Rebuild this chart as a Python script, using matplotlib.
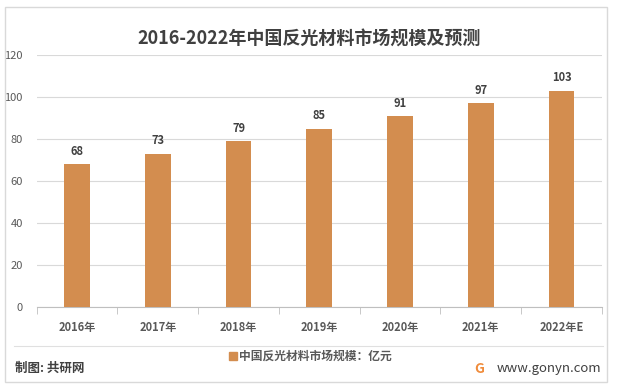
import numpy as np
import matplotlib.pyplot as plt
from matplotlib.patches import Rectangle
from matplotlib.lines import Line2D

plt.rcParams['font.family'] = ['Noto Sans CJK SC', 'DejaVu Sans']

years = ['2016年', '2017年', '2018年', '2019年', '2020年', '2021年', '2022年E']
values = [68, 73, 79, 85, 91, 97, 103]

bar_color = '#D38D4F'
text_gray = '#595959'

fig = plt.figure(figsize=(6.18, 3.89), dpi=100)
ax = fig.add_axes([0.0594, 0.2108, 0.9146, 0.6478])

x = np.arange(len(years))
bars = ax.bar(x, values, width=0.32, color=bar_color, zorder=3)
for xi, v in zip(x, values):
    ax.text(xi, v + 3, str(v), ha='center', va='bottom', fontsize=8,
            fontweight='bold', color='#404040')

ax.set_xlim(-0.5, len(years) - 0.5)
ax.set_ylim(0, 120)
ax.set_yticks(np.arange(0, 121, 20))
ax.set_xticks(x)
ax.set_xticklabels(years, fontsize=8, fontweight='bold', color=text_gray)
ax.tick_params(axis='x', length=0, pad=10)
ax.set_xticks(np.arange(-0.5, len(years), 1), minor=True)
ax.tick_params(axis='x', which='minor', length=5, color='#BFBFBF')
ax.tick_params(axis='y', length=0, pad=10, labelsize=8, labelcolor=text_gray)
ax.grid(axis='y', color='#D9D9D9', linewidth=0.8, zorder=0)
for s in ['left', 'right', 'top']:
    ax.spines[s].set_visible(False)
ax.spines['bottom'].set_color('#BFBFBF')

fig.text(0.5, 0.9, '2016-2022年中国反光材料市场规模及预测', ha='center', va='center',
         fontsize=13, fontweight='bold', color='#404040')

# outer frame and separator
fig.patches.append(Rectangle((0.008, 0.018), 0.975, 0.965, transform=fig.transFigure,
                             fill=False, edgecolor='#D9D9D9', linewidth=1))
fig.lines.append(Line2D([0.022, 0.975], [0.11, 0.11], transform=fig.transFigure,
                        color='#E0E0E0', linewidth=0.8))

# legend
fig.patches.append(Rectangle((0.371, 0.075), 0.012, 0.02, transform=fig.transFigure,
                             color=bar_color))
fig.text(0.387, 0.085, '中国反光材料市场规模：亿元', ha='left', va='center',
         fontsize=8.5, fontweight='bold', color=text_gray)

fig.text(0.024, 0.052, '制图: 共研网', ha='left', va='center', fontsize=9,
         fontweight='bold', color='#404040')
fig.text(0.973, 0.052, 'www.gonyn.com', ha='right', va='center', fontsize=9.5,
         color='#404040')
fig.text(0.775, 0.052, 'G', ha='center', va='center', fontsize=10,
         fontweight='bold', color='#F08C3C')

fig.savefig('out.png', dpi=100)
